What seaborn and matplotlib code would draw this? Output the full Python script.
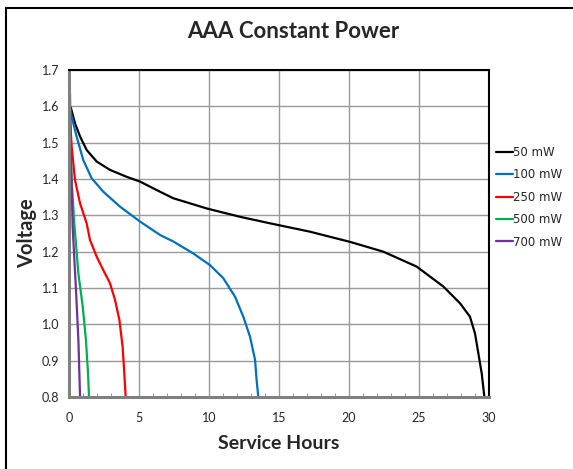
import pandas as pd
import seaborn as sns
import matplotlib.pyplot as plt
from matplotlib.patches import Rectangle
from matplotlib.ticker import MultipleLocator, FormatStrFormatter

# discharge curves
hours_50 = [0.05, 0.14, 0.43, 0.79, 1.26, 1.98, 2.93, 4.12, 5.07, 6.5, 7.45, 9.83, 12.21, 14.36,
            17.21, 20.07, 22.45, 24.83, 26.74, 27.93, 28.64, 29.0, 29.24, 29.48, 29.67]
volt_50 = [1.60, 1.595, 1.553, 1.517, 1.48, 1.448, 1.425, 1.406, 1.393, 1.365, 1.347, 1.319, 1.296, 1.278,
           1.255, 1.227, 1.20, 1.159, 1.104, 1.058, 1.021, 0.975, 0.92, 0.865, 0.80]
hours_100 = [0.05, 0.19, 0.55, 1.02, 1.62, 2.45, 3.64, 5.07, 6.5, 7.45, 8.88, 10.07, 11.02,
             11.86, 12.45, 12.93, 13.29, 13.4, 13.52]
volt_100 = [1.60, 1.571, 1.516, 1.452, 1.402, 1.365, 1.324, 1.283, 1.246, 1.228, 1.195, 1.163, 1.127,
            1.076, 1.021, 0.966, 0.902, 0.847, 0.80]
hours_250 = [0.05, 0.19, 0.43, 0.79, 1.26, 1.5, 1.98, 2.45, 2.93, 3.29, 3.6, 3.83, 3.95, 4.05]
volt_250 = [1.58, 1.489, 1.397, 1.333, 1.278, 1.232, 1.186, 1.149, 1.113, 1.067, 1.012, 0.938, 0.865, 0.80]
hours_500 = [0.05, 0.19, 0.36, 0.5, 0.67, 0.98, 1.21, 1.36, 1.43]
volt_500 = [1.56, 1.397, 1.287, 1.22, 1.14, 1.049, 0.957, 0.865, 0.80]
hours_700 = [0.07, 0.14, 0.26, 0.31, 0.5, 0.67, 0.79]
volt_700 = [1.636, 1.461, 1.27, 1.232, 1.094, 0.957, 0.80]

labels = ['50 mW', '100 mW', '250 mW', '500 mW', '700 mW']
colors = ['#000000', '#0070C0', '#FF0000', '#00B050', '#7030A0']

frames = []
for lab, h, v in zip(labels,
                     [hours_50, hours_100, hours_250, hours_500, hours_700],
                     [volt_50, volt_100, volt_250, volt_500, volt_700]):
    frames.append(pd.DataFrame({'hours': h, 'voltage': v, 'power': lab}))
df = pd.concat(frames)

sns.set_style("white")
plt.rcParams['font.family'] = ['Lato', 'DejaVu Sans']

fig = plt.figure(figsize=(5.73, 4.69), dpi=100)
ax = fig.add_axes([69/573, 1 - 397/469, 420/573, 327/469])

sns.lineplot(data=df, x='hours', y='voltage', hue='power', palette=colors,
             sort=False, estimator=None, linewidth=1.6, ax=ax)

ax.set_xlim(0, 30)
ax.set_ylim(0.8, 1.7)
ax.xaxis.set_major_locator(MultipleLocator(5))
ax.xaxis.set_minor_locator(MultipleLocator(1))
ax.yaxis.set_major_locator(MultipleLocator(0.1))
ax.yaxis.set_major_formatter(FormatStrFormatter('%.1f'))
ax.grid(True, which='major', color='#999999', linewidth=1)
ax.set_axisbelow(True)
ax.tick_params(axis='y', which='major', labelsize=9, length=0, pad=7)
ax.tick_params(axis='x', which='major', labelsize=9, length=0, pad=11)
ax.tick_params(axis='x', which='minor', direction='in', length=3, color='#888888', bottom=True)

for side in ['top', 'right']:
    ax.spines[side].set_color('black')
    ax.spines[side].set_linewidth(1.5)
for side in ['left', 'bottom']:
    ax.spines[side].set_color('#808080')
    ax.spines[side].set_linewidth(2.2)

ax.set_xlabel('Service Hours', fontsize=14, fontweight='bold', labelpad=8)
ax.set_ylabel('Voltage', fontsize=14.5, fontweight='bold', labelpad=3)
fig.text(0.512, 1 - 32/469, 'AAA Constant Power', ha='center', va='center',
         fontsize=16, fontweight='bold')

leg = ax.legend(loc='upper left', bbox_to_anchor=(1.0, 0.79), frameon=False,
                prop={'family': 'DejaVu Sans', 'size': 8.5}, handlelength=1.4,
                handletextpad=0.05, labelspacing=0.8, borderaxespad=0.2)
for line in leg.get_lines():
    line.set_linewidth(1.6)

# outer chart border
fig.patches.append(Rectangle((6/573, -0.1), 1.2, 1.1 - 8/469,
                             transform=fig.transFigure, fill=False,
                             edgecolor='black', linewidth=1.5))

fig.savefig('out.png', dpi=100)
